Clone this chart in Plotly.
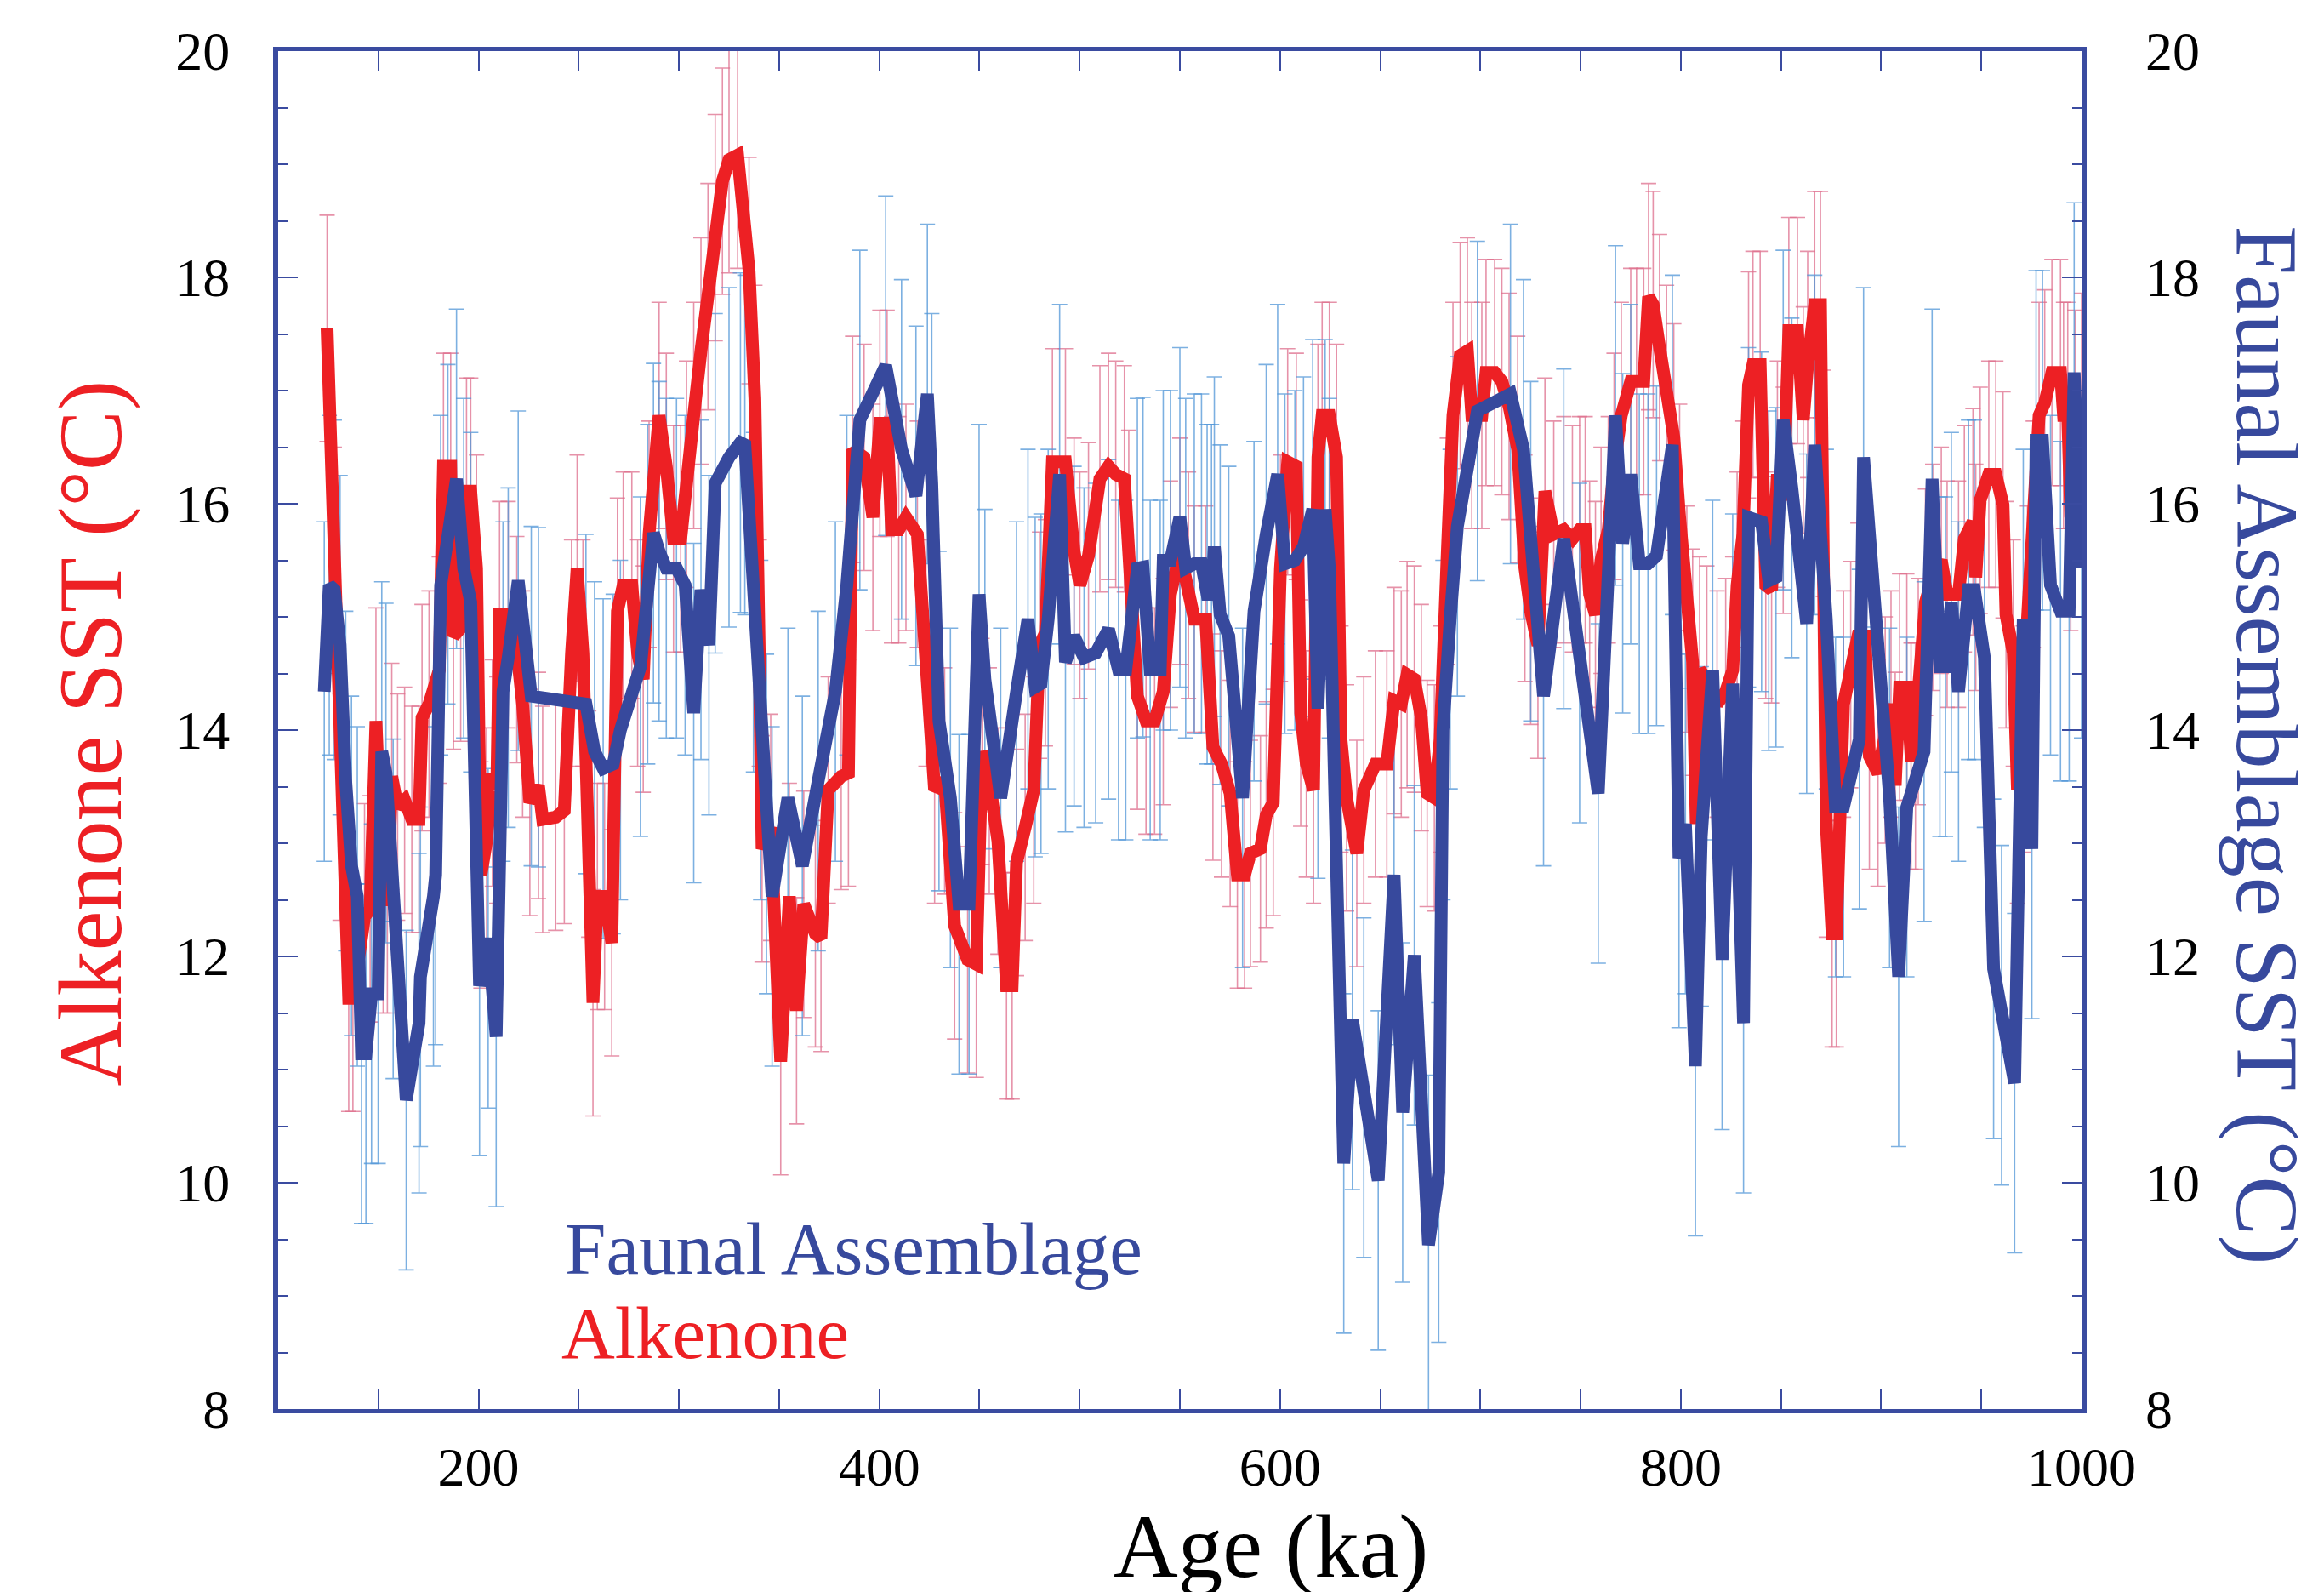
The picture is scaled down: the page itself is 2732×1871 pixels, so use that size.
import plotly.graph_objects as go

# ---------------- data ----------------
RED_AGE = [124.4, 128.0, 130.9, 135.2, 137.3, 143.1, 145.9, 148.8, 152.4, 154.5, 156.7, 159.6, 163.1, 166.7,
           170.3, 171.8, 175.3, 180.4, 182.5, 186.1, 187.5, 191.1, 194.0, 196.1, 199.0, 201.2, 204.0, 206.9,
           209.1, 210.5, 214.8, 219.1, 222.0, 225.6, 229.9, 232.0, 238.5, 242.8, 246.4, 249.2, 252.1, 255.0,
           257.1, 259.3, 262.9, 266.5, 269.3, 272.2, 276.5, 279.4, 282.2, 285.1, 290.1, 293.7, 297.3, 300.9,
           303.8, 307.4, 311.0, 314.5, 318.1, 321.7, 325.0, 329.3, 335.0, 337.9, 340.1, 341.5, 345.8, 350.8,
           355.1, 358.7, 362.3, 368.1, 370.9, 374.5, 381.0, 384.6, 386.7, 392.4, 396.8, 400.3, 403.9, 406.1,
           409.7, 413.3, 419.0, 423.3, 427.6, 432.6, 437.6, 444.1, 448.4, 451.3, 454.9, 459.2, 463.5, 466.3,
           468.5, 472.8, 477.1, 480.0, 482.9, 486.4, 492.9, 497.2, 500.1, 504.4, 510.1, 514.4, 518.0, 522.3,
           524.5, 528.8, 533.1, 537.4, 541.7, 545.3, 550.0, 554.3, 557.2, 562.9, 566.5, 570.8, 575.1, 578.7,
           582.3, 585.2, 590.2, 593.1, 596.6, 600.2, 603.8, 608.1, 610.3, 613.1, 616.7, 618.9, 621.0, 624.6,
           628.2, 630.4, 633.2, 638.3, 641.8, 647.6, 653.3, 656.9, 660.5, 663.4, 667.0, 670.5, 673.4, 677.0,
           679.9, 683.5, 686.3, 689.9, 693.5, 695.7, 700.7, 702.8, 707.1, 710.7, 714.3, 718.6, 722.2, 725.1,
           728.7, 732.2, 736.6, 741.6, 745.9, 749.5, 752.3, 754.5, 757.4, 760.2, 763.8, 766.7, 770.3, 775.0,
           777.9, 781.5, 783.9, 786.2, 789.4, 792.9, 796.5, 799.4, 803.0, 805.9, 807.7, 809.4, 813.0, 818.1,
           822.4, 825.9, 828.1, 831.0, 833.8, 836.0, 839.6, 842.4, 845.3, 848.2, 851.1, 853.9, 858.2, 861.1,
           863.3, 866.8, 869.7, 871.1, 872.6, 875.5, 877.6, 881.2, 884.8, 888.4, 892.0, 894.1, 898.4, 902.0,
           904.9, 907.0, 909.2, 912.8, 914.9, 917.1, 918.5, 922.1, 925.7, 930.0, 932.9, 938.6, 941.5, 945.8,
           947.2, 949.4, 953.7, 957.2, 960.8, 962.3, 965.9, 968.0, 970.9, 973.0, 975.9, 978.8, 981.6, 985.2,
           989.5, 991.0, 993.1, 994.6, 996.7, 1000.0]
RED_SST = [17.55, 15.50, 13.32, 11.63, 11.63, 12.35, 12.42, 14.08, 12.50, 12.50, 13.59, 13.32, 13.38, 13.21,
           13.21, 14.11, 14.23, 14.53, 16.33, 16.33, 14.83, 14.90, 16.11, 16.11, 15.43, 12.72, 13.02, 13.62,
           13.47, 15.02, 15.02, 14.71, 14.23, 13.36, 13.51, 13.21, 13.23, 13.29, 14.68, 15.43, 14.68, 13.17,
           11.59, 12.53, 12.53, 12.12, 15.05, 15.28, 15.28, 14.68, 14.45, 15.73, 16.78, 16.33, 15.69, 15.69,
           16.26, 16.78, 17.35, 17.83, 18.44, 18.85, 19.04, 19.08, 18.06, 16.93, 14.68, 12.95, 13.14, 11.07,
           12.53, 11.52, 12.46, 12.20, 12.16, 13.47, 13.59, 13.62, 16.48, 16.41, 15.88, 16.71, 16.71, 15.77,
           15.77, 15.88, 15.73, 14.68, 13.47, 13.55, 12.27, 11.97, 11.93, 13.81, 13.55, 13.02, 11.74, 11.74,
           12.83, 13.14, 13.47, 14.75, 14.86, 16.37, 16.37, 15.58, 15.28, 15.54, 16.22, 16.33, 16.26, 16.22,
           15.65, 14.30, 14.08, 14.08, 14.34, 15.20, 15.58, 15.28, 14.98, 14.98, 13.85, 13.70, 13.44, 12.72,
           12.72, 12.91, 12.95, 13.25, 13.36, 15.43, 16.37, 16.33, 14.15, 13.70, 13.47, 16.41, 16.78, 16.78,
           16.41, 13.92, 13.40, 12.91, 13.47, 13.70, 13.70, 14.26, 14.23, 14.49, 14.45, 14.11, 13.44, 13.40,
           13.92, 15.58, 16.78, 17.31, 17.35, 16.78, 16.78, 17.16, 17.16, 17.08, 16.86, 16.48, 15.43, 15.05,
           14.75, 16.11, 15.73, 15.77, 15.69, 15.77, 15.77, 15.20, 15.02, 15.50, 15.77, 16.33, 16.78, 17.08,
           17.08, 17.08, 17.83, 17.76, 17.38, 16.93, 16.59, 15.88, 14.98, 14.60, 13.17, 14.53, 14.45, 14.23,
           14.34, 14.53, 15.28, 15.73, 17.05, 17.23, 17.23, 15.28, 15.24, 16.26, 16.03, 17.53, 17.53, 16.74,
           17.23, 17.76, 17.76, 16.18, 13.17, 12.20, 12.20, 14.23, 14.49, 14.83, 14.83, 13.77, 13.62, 14.00,
           14.23, 13.51, 14.38, 14.38, 13.77, 13.77, 14.34, 15.13, 15.35, 15.50, 15.20, 15.20, 15.69, 15.84,
           15.35, 16.03, 16.26, 16.26, 15.99, 15.02, 14.68, 13.47, 13.92, 14.98, 15.73, 16.78, 16.89, 17.16,
           17.16, 16.78, 16.78, 15.88, 16.71, 16.86]

BLUE_AGE = [123.0, 125.5, 128.0, 130.9, 133.7, 136.6, 139.5, 141.6, 143.8, 146.6, 149.9, 151.7, 153.8, 157.4,
            163.9, 170.3, 171.0, 177.5, 178.6, 181.1, 184.7, 189.0, 192.6, 196.1, 200.5, 204.8, 208.8, 212.2,
            214.8, 219.8, 226.3, 229.9, 253.6, 257.9, 262.2, 267.2, 270.8, 280.8, 284.4, 287.3, 290.1, 293.7,
            298.8, 303.1, 307.4, 311.0, 315.0, 318.1, 325.0, 330.7, 332.9, 337.2, 340.8, 343.7, 346.5, 354.4,
            361.6, 369.5, 378.1, 383.8, 390.3, 403.2, 411.1, 418.3, 424.0, 426.2, 429.8, 435.5, 439.8, 444.8,
            449.8, 452.7, 460.6, 468.5, 474.2, 477.8, 480.7, 484.3, 490.0, 492.9, 497.2, 502.2, 508.0, 514.4,
            519.4, 523.0, 528.8, 531.6, 535.2, 540.2, 541.7, 545.3, 550.0, 552.9, 557.2, 560.8, 563.6, 565.8,
            567.2, 570.1, 574.4, 581.3, 587.0, 593.1, 598.8, 602.4, 607.4, 611.7, 616.3, 618.9, 622.5, 624.6,
            631.8, 636.1, 641.8, 649.0, 656.9, 661.2, 667.0, 674.1, 679.2, 681.3, 684.9, 688.5, 698.5, 715.0,
            721.5, 725.1, 731.5, 741.6, 749.5, 758.8, 767.4, 771.0, 775.0, 779.3, 783.6, 787.9, 795.8, 799.1,
            802.3, 807.3, 810.2, 815.9, 820.6, 825.9, 831.3, 833.8, 840.3, 843.9, 847.5, 851.1, 855.4, 862.8,
            866.8, 872.6, 877.2, 881.2, 889.1, 891.2, 904.2, 908.7, 912.8, 921.4, 925.4, 929.3, 932.1, 935.0,
            938.6, 943.6, 946.5, 951.5, 956.1, 960.1, 966.6, 970.9, 975.2, 977.3, 980.5, 984.5, 989.5, 993.8,
            996.3, 1000.0]
BLUE_SST = [14.34, 15.28, 15.24, 14.75, 13.55, 12.80, 12.53, 11.14, 11.14, 11.67, 11.67, 13.81, 13.62, 12.42,
            10.73, 11.41, 11.82, 12.53, 12.72, 15.28, 15.73, 16.22, 15.43, 15.13, 11.74, 12.16, 11.29, 14.34,
            14.64, 15.32, 14.30, 14.29, 14.23, 13.81, 13.66, 13.70, 14.00, 14.56, 15.20, 15.74, 15.58, 15.43,
            15.43, 15.28, 14.15, 15.24, 14.75, 16.18, 16.41, 16.54, 16.52, 15.13, 14.00, 13.17, 12.53, 13.40,
            12.80, 13.55, 14.34, 15.28, 16.74, 17.22, 16.48, 16.07, 16.97, 16.18, 14.08, 13.40, 12.46, 12.46,
            15.20, 14.45, 13.40, 14.34, 14.98, 14.38, 14.41, 14.98, 16.26, 14.60, 14.83, 14.64, 14.68, 14.89,
            14.53, 14.53, 15.43, 15.44, 14.53, 14.53, 15.50, 15.50, 15.88, 15.43, 15.47, 15.47, 15.20, 15.20,
            15.62, 15.02, 14.83, 13.40, 15.05, 15.73, 16.26, 15.47, 15.50, 15.62, 15.95, 14.19, 15.95, 15.43,
            10.17, 11.44, 10.84, 10.02, 12.72, 10.62, 12.01, 9.45, 10.09, 14.00, 14.98, 15.80, 16.82, 16.97,
            16.48, 15.58, 14.30, 15.69, 14.68, 13.44, 16.78, 15.65, 16.26, 15.47, 15.47, 15.54, 16.52, 12.87,
            13.17, 11.03, 13.06, 14.53, 11.97, 14.41, 11.41, 15.88, 15.84, 15.32, 15.35, 16.74, 16.14, 14.94,
            16.52, 14.98, 13.32, 13.32, 13.92, 16.41, 13.40, 11.82, 13.32, 13.81, 16.22, 14.56, 14.56, 15.13,
            14.34, 15.24, 15.24, 14.64, 11.89, 11.48, 10.88, 14.98, 12.95, 16.56, 16.56, 15.28, 15.05, 15.05,
            17.16, 15.43]

RED_ERR = 1.0    # typical 1-sigma of the alkenone estimates (degC)
BLUE_ERR = 1.5   # typical 1-sigma of the faunal estimates (degC)

X_RANGE = [100, 1000]
Y_RANGE = [8, 20]

# ---------------- style ----------------
RED = "#ED2024"
BLUE = "#37499D"
FRAME = "#3A4BA0"
RED_EB = "rgba(222,110,140,0.75)"
BLUE_EB = "rgba(80,150,215,0.75)"
FONT = "Liberation Serif"
TICK_SIZE = 64

fig = go.Figure()

# error bars (drawn beneath the lines)
fig.add_trace(go.Scatter(
    x=RED_AGE, y=RED_SST, mode="markers", marker=dict(size=1, opacity=0),
    error_y=dict(type="constant", value=RED_ERR, color=RED_EB, thickness=1.6, width=9),
    hoverinfo="skip", showlegend=False))
fig.add_trace(go.Scatter(
    x=BLUE_AGE, y=BLUE_SST, mode="markers", marker=dict(size=1, opacity=0),
    error_y=dict(type="constant", value=BLUE_ERR, color=BLUE_EB, thickness=1.6, width=9),
    hoverinfo="skip", showlegend=False))

# main lines
fig.add_trace(go.Scatter(x=RED_AGE, y=RED_SST, mode="lines", name="Alkenone",
                         line=dict(color=RED, width=15), showlegend=False))
fig.add_trace(go.Scatter(x=BLUE_AGE, y=BLUE_SST, mode="lines", name="Faunal Assemblage",
                         line=dict(color=BLUE, width=15), showlegend=False, yaxis="y2"))

axis_common = dict(showgrid=False, zeroline=False)

fig.update_layout(
    width=2732, height=1871,
    margin=dict(l=319, r=293, t=52, b=223),
    paper_bgcolor="white", plot_bgcolor="white",
    font=dict(family=FONT, color="black"),
    xaxis=dict(
        range=X_RANGE, tick0=0, dtick=200,
        ticks="inside", ticklen=23, tickwidth=2, tickcolor=FRAME,
        minor=dict(dtick=50, ticks="inside", ticklen=11, tickwidth=2, tickcolor=FRAME),
        showline=True, linecolor=FRAME, linewidth=5, mirror="allticks",
        tickfont=dict(family=FONT, size=TICK_SIZE, color="black"),
        ticklabelstandoff=8,
        **axis_common),
    yaxis=dict(
        range=Y_RANGE, tick0=0, dtick=2,
        ticks="inside", ticklen=23, tickwidth=2, tickcolor=FRAME,
        minor=dict(dtick=0.5, ticks="inside", ticklen=11, tickwidth=2, tickcolor=FRAME),
        showline=True, linecolor=FRAME, linewidth=6, mirror="allticks",
        tickfont=dict(family=FONT, size=TICK_SIZE, color="black"),
        ticklabelstandoff=38,
        **axis_common),
    yaxis2=dict(
        range=Y_RANGE, tick0=0, dtick=2, overlaying="y", side="right",
        ticks="", showline=False,
        tickfont=dict(family=FONT, size=TICK_SIZE, color="black"),
        ticklabelstandoff=74,
        **axis_common),
    annotations=[
        dict(text="Age (ka)", xref="paper", yref="paper", x=0.5505, y=-0.101,
             xanchor="center", yanchor="middle", showarrow=False,
             font=dict(family=FONT, size=105, color="black")),
        dict(text="Alkenone SST (°C)", xref="paper", yref="paper", x=-0.104, y=0.4975,
             xanchor="center", yanchor="middle", textangle=-90, showarrow=False,
             font=dict(family=FONT, size=106, color=RED)),
        dict(text="Faunal Assemblage SST (°C)", xref="paper", yref="paper", x=1.103, y=0.489,
             xanchor="center", yanchor="middle", textangle=90, showarrow=False,
             font=dict(family=FONT, size=104, color=BLUE)),
        dict(text="Faunal Assemblage", xref="paper", yref="paper", x=0.158, y=0.1178,
             xanchor="left", yanchor="middle", showarrow=False,
             font=dict(family=FONT, size=87, color=BLUE)),
        dict(text="Alkenone", xref="paper", yref="paper", x=0.156, y=0.0558,
             xanchor="left", yanchor="middle", showarrow=False,
             font=dict(family=FONT, size=87, color=RED)),
    ],
)

fig.write_html("out.html")
